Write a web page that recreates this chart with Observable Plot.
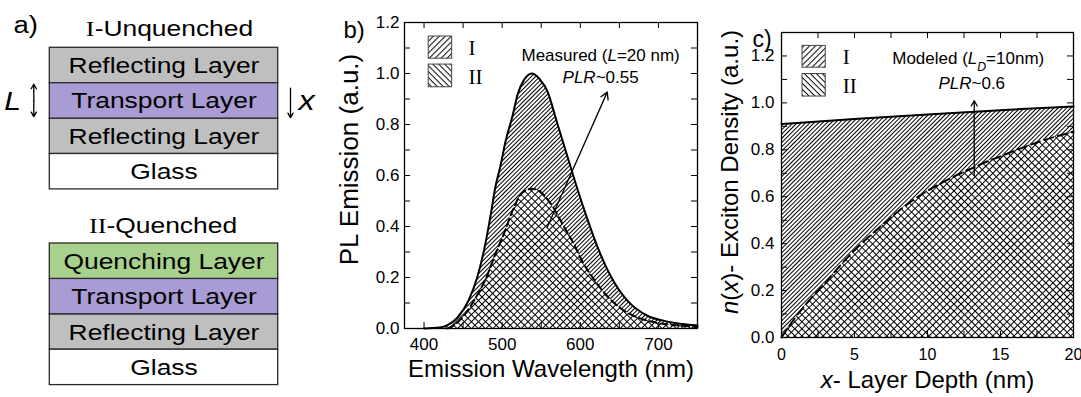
<!DOCTYPE html>
<html><head><meta charset="utf-8">
<script src="https://cdn.jsdelivr.net/npm/d3@7"></script>
<script src="https://cdn.jsdelivr.net/npm/@observablehq/plot@0.6"></script>
<style>
body{margin:0;background:#fff;}
#fig{position:relative;width:1081px;height:397px;overflow:hidden;background:#fff;}
.panel{position:absolute;top:0;}
</style></head><body><div id="fig"></div>
<script>
// ---------------- Panel a (schematic) ----------------
const stackITitle = "I-Unquenched";
const stackIITitle = "II-Quenched";
const stackILayers = ["Reflecting Layer", "Transport Layer", "Reflecting Layer", "Glass"];
const stackIILayers = ["Quenching Layer", "Transport Layer", "Reflecting Layer", "Glass"];

// ---------------- Panel b (measured PL spectra) ----------------
const wavelengthI = [400, 420, 430, 442, 457, 468, 477, 485, 491, 498, 504, 513, 520, 528, 538, 548, 558, 570, 583, 596, 609, 622, 639, 660, 686, 707, 730, 750];
const emissionI   = [0.0, 0.004, 0.013, 0.04, 0.11, 0.20, 0.31, 0.44, 0.55, 0.64, 0.73, 0.83, 0.92, 0.975, 1.0, 0.978, 0.93, 0.81, 0.68, 0.55, 0.43, 0.32, 0.205, 0.11, 0.05, 0.03, 0.018, 0.012];
const wavelengthII = [430, 438, 451, 466, 479, 491, 502, 513, 525, 538, 547, 562, 579, 592, 604, 617, 630, 647, 668, 694, 726, 750];
const emissionII   = [0.0, 0.012, 0.05, 0.12, 0.195, 0.29, 0.37, 0.46, 0.53, 0.548, 0.54, 0.49, 0.40, 0.33, 0.255, 0.195, 0.142, 0.09, 0.05, 0.025, 0.012, 0.006];
const bXTickLabels = [400, 500, 600, 700];
const bXMinorTicks = [400, 450, 500, 550, 600, 650, 700];
const bYTickLabels = [0, 0.2, 0.4, 0.6, 0.8, 1.0, 1.2];
const bYMinorTicks = [0.1, 0.2, 0.3, 0.4, 0.5, 0.6, 0.7, 0.8, 0.9, 1.0, 1.1];
const bNoteTitle = "Measured (L=20 nm)";
const bNoteRatio = "PLR~0.55";

// ---------------- Panel c (modeled exciton density) ----------------
const depthI   = [0, 5, 10, 15, 20];
const densityI = [0.910, 0.931, 0.951, 0.969, 0.985];
const depthII   = [0, 1, 2, 3, 4, 5, 6, 7, 8, 9, 10, 11, 12, 13, 14, 15, 16, 17, 18, 19, 20];
const densityII = [0.0, 0.09, 0.165, 0.233, 0.305, 0.372, 0.43, 0.485, 0.538, 0.585, 0.625, 0.66, 0.692, 0.72, 0.748, 0.772, 0.797, 0.82, 0.842, 0.86, 0.877];
const cXTickLabels = [0, 5, 10, 15, 20];
const cXMinorTicks = [2.5, 5, 7.5, 10, 12.5, 15, 17.5];
const cYTickLabels = [0, 0.2, 0.4, 0.6, 0.8, 1.0, 1.2];
const cYMinorTicks = [0.1, 0.2, 0.3, 0.4, 0.5, 0.6, 0.7, 0.8, 0.9, 1.0, 1.1, 1.2];
const cNoteTitle = "Modeled (LD=10nm)";
const cNoteRatio = "PLR~0.6";

const legendNames = ["I", "II"];

// ---------------- styling / layout (not data) ----------------
const SANS = "Liberation Sans, Arial, sans-serif";
const SERIF = "Liberation Serif, Times New Roman, serif";
const layerFill = {"Reflecting Layer": "#bfbfbf", "Transport Layer": "#a99bd3", "Quenching Layer": "#a9d18e", "Glass": "#ffffff"};
const NS = "http://www.w3.org/2000/svg";

function addPatterns(svg, specs) {
  const defs = document.createElementNS(NS, "defs");
  for (const {id, s, angle, cross, bg} of specs) {
    const p = document.createElementNS(NS, "pattern");
    p.setAttribute("id", id);
    p.setAttribute("patternUnits", "userSpaceOnUse");
    p.setAttribute("width", s);
    p.setAttribute("height", s);
    p.setAttribute("patternTransform", `rotate(${angle})`);
    if (bg) {
      const r = document.createElementNS(NS, "rect");
      r.setAttribute("width", s); r.setAttribute("height", s); r.setAttribute("fill", "white");
      p.appendChild(r);
    }
    const l = document.createElementNS(NS, "line");
    l.setAttribute("x1", s / 2); l.setAttribute("x2", s / 2);
    l.setAttribute("y1", -1); l.setAttribute("y2", s + 1);
    l.setAttribute("stroke", "black"); l.setAttribute("stroke-width", 1);
    p.appendChild(l);
    if (cross) {
      const h = document.createElementNS(NS, "line");
      h.setAttribute("y1", s / 2); h.setAttribute("y2", s / 2);
      h.setAttribute("x1", -1); h.setAttribute("x2", s + 1);
      h.setAttribute("stroke", "black"); h.setAttribute("stroke-width", 1);
      p.appendChild(h);
    }
    defs.appendChild(p);
  }
  svg.insertBefore(defs, svg.firstChild);
}

function richify(svg, map) {
  svg.querySelectorAll("text").forEach(t => {
    const key = t.textContent;
    if (!map[key]) return;
    t.textContent = "";
    for (const seg of map[key]) {
      const ts = document.createElementNS(NS, "tspan");
      ts.textContent = seg.t;
      if (seg.i) ts.setAttribute("font-style", "italic");
      if (seg.f) ts.setAttribute("font-family", seg.f);
      if (seg.sub) { ts.setAttribute("baseline-shift", "sub"); ts.setAttribute("font-size", "0.72em"); }
      t.appendChild(ts);
    }
  });
}

const richMap = {
  "I-Unquenched": [{t: "I", f: SERIF}, {t: "-Unquenched"}],
  "II-Quenched": [{t: "II", f: SERIF}, {t: "-Quenched"}],
  "Measured (L=20 nm)": [{t: "Measured ("}, {t: "L", i: true}, {t: "=20 nm)"}],
  "PLR~0.55": [{t: "PLR", i: true}, {t: "~0.55"}],
  "Modeled (LD=10nm)": [{t: "Modeled ("}, {t: "L", i: true}, {t: "D", i: true, sub: true}, {t: "=10nm)"}],
  "PLR~0.6": [{t: "PLR", i: true}, {t: "~0.6"}],
  "n(x)- Exciton Density (a.u.)": [{t: "n", i: true}, {t: "("}, {t: "x", i: true}, {t: ")- Exciton Density (a.u.)"}],
  "x- Layer Depth (nm)": [{t: "x", i: true}, {t: "- Layer Depth (nm)"}]
};

const fig = document.getElementById("fig");
function place(svg, left) {
  const d = document.createElement("div");
  d.className = "panel";
  d.style.left = left + "px";
  d.appendChild(svg);
  fig.appendChild(d);
}

// ================= Panel a =================
{
  const A = {width: 330, height: 397, stretch: 1.2, bx1: 49.3, bx2: 277.7, rowH: 35.4, topI: 47.3, topII: 243};
  const rows = (layers, top) => layers.map((name, i) => ({name, y1: top + i * A.rowH, y2: top + (i + 1) * A.rowH}));
  const allRows = [...rows(stackILayers, A.topI), ...rows(stackIILayers, A.topII)];
  const tr = allRows[1]; // transport row of stack I
  const midT = (tr.y1 + tr.y2) / 2;
  const svg = Plot.plot({
    width: A.width, height: A.height, margin: 0,
    x: {type: "identity", axis: null}, y: {type: "identity", axis: null},
    style: {fontFamily: SANS, background: "transparent", color: "black"},
    marks: [
      ...Object.keys(layerFill).map(name =>
        Plot.rect(allRows.filter(d => d.name === name), {x1: A.bx1, x2: A.bx2, y1: "y1", y2: "y2", fill: layerFill[name], stroke: "#2a2a2a", strokeWidth: 1.3})),
      Plot.text(allRows, {x: (A.bx1 + A.bx2) / 2, y: d => (d.y1 + d.y2) / 2 + 0.5, text: "name", fontSize: 22, fill: "black"}),
      Plot.text([stackITitle], {x: 169, y: 28, fontSize: 22, fill: "black"}),
      Plot.text([stackIITitle], {x: 162.5, y: 225, fontSize: 22, fill: "black"}),
      Plot.text(["a)"], {x: 13, y: 25, textAnchor: "start", fontSize: 23, fill: "black"}),
      Plot.text(["L"], {x: 12, y: midT + 1, fontSize: 25, fontStyle: "italic", fill: "black"}),
      Plot.arrow([{y2: tr.y1 + 1}, {y2: tr.y2 - 2}], {x1: 33.3, x2: 33.3, y1: midT, y2: "y2", headLength: 6, strokeWidth: 1.3, stroke: "black"}),
      Plot.arrow([{}], {x1: 290, x2: 290, y1: tr.y1 + 5, y2: tr.y2 - 1, headLength: 6, strokeWidth: 1.3, stroke: "black"}),
      Plot.text(["x"], {x: 306, y: midT, fontSize: 27, fontStyle: "italic", fill: "black"})
    ]
  });
  richify(svg, richMap);
  place(svg, 0);
  // the original schematic is drawn horizontally stretched: widen glyphs to match
  svg.querySelectorAll("text").forEach(t => {
    const w = t.getComputedTextLength();
    if (w > 0) {
      t.setAttribute("textLength", (w * A.stretch).toFixed(1));
      t.setAttribute("lengthAdjust", "spacingAndGlyphs");
    }
  });
}

// ================= Panel b =================
{
  const B = {width: 380, height: 397, mt: 22, mr: 13, mb: 69, ml: 74, tick: 6};
  const iw = B.width - B.ml - B.mr, ih = B.height - B.mt - B.mb;
  const dI = wavelengthI.map((x, i) => ({x, y: emissionI[i]}));
  const dII = wavelengthII.map((x, i) => ({x, y: emissionII[i]}));
  const curve = "monotone-x";
  const svg = Plot.plot({
    width: B.width, height: B.height,
    marginTop: B.mt, marginRight: B.mr, marginBottom: B.mb, marginLeft: B.ml,
    x: {domain: [375, 750]}, y: {domain: [0, 1.2]},
    style: {fontFamily: SANS, background: "transparent", color: "black"},
    marks: [
      Plot.areaY(dI, {x: "x", y: "y", fill: "url(#bHatchI)", curve}),
      Plot.areaY(dII, {x: "x", y: "y", fill: "url(#bHatchII)", curve}),
      Plot.line(dI, {x: "x", y: "y", stroke: "black", strokeWidth: 2, curve}),
      Plot.line(dII, {x: "x", y: "y", stroke: "black", strokeWidth: 2, strokeDasharray: "7,4", curve}),
      Plot.frame({stroke: "black", strokeWidth: 1.3}),
      Plot.ruleX(bXMinorTicks, {insetTop: ih - B.tick, stroke: "black"}),
      Plot.ruleX(bXMinorTicks, {insetBottom: ih - B.tick, stroke: "black"}),
      Plot.ruleY(bYMinorTicks, {insetRight: iw - B.tick, stroke: "black"}),
      Plot.ruleY(bYMinorTicks, {insetLeft: iw - B.tick, stroke: "black"}),
      Plot.axisX({ticks: bXTickLabels, tickSize: 0, tickPadding: 9, fontSize: 17, label: null, tickFormat: d => String(d)}),
      Plot.axisY({ticks: bYTickLabels, tickSize: 0, tickPadding: 5, fontSize: 17, label: null, tickFormat: d3.format(".1f")}),
      Plot.text(["Emission Wavelength (nm)"], {frameAnchor: "bottom", dy: 48, fontSize: 24, fill: "black"}),
      Plot.text(["PL Emission (a.u.)"], {frameAnchor: "left", textAnchor: "middle", rotate: -90, dx: -55, dy: -16, fontSize: 26, fill: "black"}),
      Plot.text(["b)"], {frameAnchor: "top-left", dx: -61, dy: -2, textAnchor: "start", fontSize: 24, fill: "black"}),
      // legend
      Plot.rect([{x1: 406, x2: 436, y1: 1.058, y2: 1.145}], {x1: "x1", x2: "x2", y1: "y1", y2: "y2", fill: "url(#bLegI)", stroke: "#444", strokeWidth: 1}),
      Plot.rect([{x1: 406, x2: 436, y1: 0.946, y2: 1.035}], {x1: "x1", x2: "x2", y1: "y1", y2: "y2", fill: "url(#bLegII)", stroke: "#444", strokeWidth: 1}),
      Plot.text([legendNames[0]], {x: 457, y: 1.097, textAnchor: "start", fontFamily: SERIF, fontSize: 21, fill: "black"}),
      Plot.text([legendNames[1]], {x: 457, y: 0.985, textAnchor: "start", fontFamily: SERIF, fontSize: 21, fill: "black"}),
      // annotations
      Plot.text([bNoteTitle], {x: 626, y: 1.071, fontSize: 17, fill: "black"}),
      Plot.text([bNoteRatio], {x: 626, y: 0.985, fontSize: 17, fill: "black"}),
      Plot.arrow([{}], {x1: 557.7, y1: 0.397, x2: 634.5, y2: 0.927, headLength: 9, strokeWidth: 1.3, stroke: "black"})
    ]
  });
  addPatterns(svg, [
    {id: "bHatchI", s: 3, angle: 45},
    {id: "bHatchII", s: 5, angle: 45, cross: true, bg: true},
    {id: "bLegI", s: 4.2, angle: 45, bg: true},
    {id: "bLegII", s: 4.2, angle: -45, bg: true}
  ]);
  richify(svg, richMap);
  place(svg, 330);
}

// ================= Panel c =================
{
  const C = {width: 371, height: 397, mt: 32, mr: 8, mb: 60, ml: 71, tick: 6};
  const iw = C.width - C.ml - C.mr, ih = C.height - C.mt - C.mb;
  const dI = depthI.map((x, i) => ({x, y: densityI[i]}));
  const dII = depthII.map((x, i) => ({x, y: densityII[i]}));
  const curve = "monotone-x";
  const svg = Plot.plot({
    width: C.width, height: C.height,
    marginTop: C.mt, marginRight: C.mr, marginBottom: C.mb, marginLeft: C.ml,
    x: {domain: [0, 20]}, y: {domain: [0, 1.3]},
    style: {fontFamily: SANS, background: "transparent", color: "black"},
    marks: [
      Plot.areaY(dI, {x: "x", y: "y", fill: "url(#cHatchI)", curve}),
      Plot.areaY(dII, {x: "x", y: "y", fill: "url(#cHatchII)", curve}),
      Plot.line(dI, {x: "x", y: "y", stroke: "black", strokeWidth: 2, curve}),
      Plot.line(dII, {x: "x", y: "y", stroke: "black", strokeWidth: 2, strokeDasharray: "9,5", curve}),
      Plot.frame({stroke: "black", strokeWidth: 1.3}),
      Plot.ruleX(cXMinorTicks, {insetTop: ih - C.tick, stroke: "black"}),
      Plot.ruleX(cXMinorTicks, {insetBottom: ih - C.tick, stroke: "black"}),
      Plot.ruleY(cYMinorTicks, {insetRight: iw - C.tick, stroke: "black"}),
      Plot.ruleY(cYMinorTicks, {insetLeft: iw - C.tick, stroke: "black"}),
      Plot.axisX({ticks: cXTickLabels, tickSize: 0, tickPadding: 11, fontSize: 16, label: null, tickFormat: d => String(d)}),
      Plot.axisY({ticks: cYTickLabels, tickSize: 0, tickPadding: 7, fontSize: 17, label: null, tickFormat: d3.format(".1f")}),
      Plot.text(["x- Layer Depth (nm)"], {frameAnchor: "bottom", dy: 50, fontSize: 24, fill: "black"}),
      Plot.text(["n(x)- Exciton Density (a.u.)"], {frameAnchor: "left", textAnchor: "middle", rotate: -90, dx: -51, dy: -13, fontSize: 24, fill: "black"}),
      Plot.text(["c)"], {frameAnchor: "top-left", dx: -29, dy: -2, textAnchor: "start", fontSize: 23, fill: "black"}),
      // legend
      Plot.rect([{x1: 1.44, x2: 3.03, y1: 1.150, y2: 1.243}], {x1: "x1", x2: "x2", y1: "y1", y2: "y2", fill: "url(#cLegI)", stroke: "#444", strokeWidth: 1}),
      Plot.rect([{x1: 1.44, x2: 3.03, y1: 1.027, y2: 1.123}], {x1: "x1", x2: "x2", y1: "y1", y2: "y2", fill: "url(#cLegII)", stroke: "#444", strokeWidth: 1}),
      Plot.text([legendNames[0]], {x: 4.2, y: 1.193, textAnchor: "start", fontFamily: SERIF, fontSize: 21, fill: "black"}),
      Plot.text([legendNames[1]], {x: 4.2, y: 1.072, textAnchor: "start", fontFamily: SERIF, fontSize: 21, fill: "black"}),
      // annotations
      Plot.text([cNoteTitle], {x: 12.79, y: 1.187, fontSize: 17, fill: "black"}),
      Plot.text([cNoteRatio], {x: 13.03, y: 1.081, fontSize: 17, fill: "black"}),
      Plot.arrow([{}], {x1: 13.2, y1: 0.69, x2: 13.2, y2: 1.009, headLength: 7, strokeWidth: 1.3, stroke: "black"})
    ]
  });
  addPatterns(svg, [
    {id: "cHatchI", s: 3, angle: 45},
    {id: "cHatchII", s: 5, angle: 45, cross: true, bg: true},
    {id: "cLegI", s: 4.2, angle: 45, bg: true},
    {id: "cLegII", s: 4.2, angle: -45, bg: true}
  ]);
  richify(svg, richMap);
  place(svg, 710);
}
</script></body></html>
